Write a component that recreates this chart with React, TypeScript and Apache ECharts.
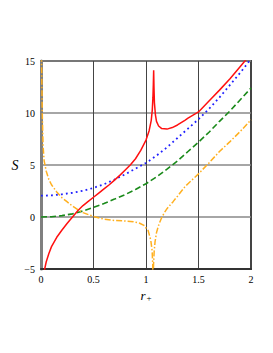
import React, { useEffect, useRef } from "react";
import * as echarts from "echarts";

// Red solid curve
const redR = [0.03, 0.035, 0.05, 0.075, 0.1, 0.15, 0.2, 0.25, 0.3, 0.35, 0.4, 0.45, 0.5, 0.55, 0.6, 0.65, 0.7, 0.75, 0.8, 0.85, 0.9, 0.95, 1.0, 1.03, 1.05, 1.06, 1.066, 1.07, 1.073, 1.076, 1.08, 1.09, 1.1, 1.12, 1.15, 1.2, 1.25, 1.3, 1.37, 1.4, 1.5, 1.6, 1.7, 1.8, 1.9, 2.0];
const redS = [-6, -5, -4.3, -3.5, -2.85, -1.95, -1.25, -0.6, 0.0, 0.6, 1.1, 1.5, 1.9, 2.3, 2.7, 3.1, 3.55, 4.0, 4.5, 5.0, 5.6, 6.4, 7.4, 8.3, 9.3, 10.3, 11.5, 12.8, 14.1, 12.5, 11.0, 9.8, 9.2, 8.75, 8.5, 8.45, 8.6, 8.85, 9.3, 9.5, 10.1, 11.15, 12.2, 13.3, 14.5, 15.7];

// Blue dotted curve
const blueR = [0, 0.1, 0.2, 0.3, 0.4, 0.5, 0.6, 0.7, 0.8, 0.9, 1.0, 1.1, 1.2, 1.3, 1.4, 1.5, 1.6, 1.7, 1.8, 1.9, 2.0];
const blueS = [2.05, 2.08, 2.18, 2.33, 2.52, 2.8, 3.15, 3.6, 4.1, 4.65, 5.2, 5.9, 6.7, 7.6, 8.5, 9.4, 10.4, 11.5, 12.7, 13.9, 15.2];

// Green dashed curve
const greenR = [0, 0.1, 0.2, 0.3, 0.4, 0.5, 0.6, 0.7, 0.8, 0.9, 1.0, 1.1, 1.2, 1.3, 1.4, 1.5, 1.6, 1.7, 1.8, 1.9, 2.0];
const greenS = [0, 0.03, 0.13, 0.3, 0.58, 0.93, 1.3, 1.72, 2.15, 2.65, 3.2, 3.85, 4.6, 5.4, 6.3, 7.2, 8.15, 9.2, 10.2, 11.3, 12.4];

// Orange dash-dot curve, left branch
const orangeLeftR = [0.004, 0.007, 0.012, 0.02, 0.03, 0.05, 0.075, 0.1, 0.15, 0.2, 0.25, 0.3, 0.35, 0.4, 0.5, 0.6, 0.7, 0.8, 0.88, 0.94, 0.98, 1.02, 1.045, 1.058, 1.064, 1.067];
const orangeLeftS = [15.5, 13.8, 10, 6.8, 5.4, 4.4, 3.6, 3.1, 2.4, 1.85, 1.45, 1.05, 0.7, 0.42, 0.05, -0.2, -0.33, -0.38, -0.45, -0.6, -0.8, -1.3, -2.2, -3.2, -4.5, -6];

// Orange dash-dot curve, right branch
const orangeRightR = [1.069, 1.072, 1.078, 1.086, 1.1, 1.117, 1.133, 1.15, 1.18, 1.2, 1.26, 1.3, 1.37, 1.4, 1.5, 1.6, 1.7, 1.8, 1.9, 2.0];
const orangeRightS = [-6, -4.5, -3.3, -2.4, -1.5, -0.9, -0.45, -0.05, 0.5, 0.8, 1.5, 2.0, 2.9, 3.2, 4.15, 5.2, 6.3, 7.25, 8.25, 9.35];

const xTicks = ["0", "0.5", "1", "1.5", "2"];

const zip = (a: number[], b: number[]) => a.map((v, i) => [v, b[i]]);

export default function App() {
  const ref = useRef<HTMLDivElement>(null);
  useEffect(() => {
    if (!ref.current) return;
    const chart = echarts.init(ref.current, null, { renderer: "svg" });
    const font = "'Liberation Serif', 'DejaVu Serif', serif";
    const base = { type: "line", showSymbol: false, symbol: "none", clip: true, smooth: false };
    chart.setOption({
      animation: false,
      grid: { left: 41, top: 61, width: 210, height: 208, show: true, borderColor: "#444", borderWidth: 2, backgroundColor: "transparent" },
      xAxis: {
        type: "value", min: 0, max: 2, interval: 0.5,
        axisLine: { show: true, onZero: false, lineStyle: { color: "#333", width: 2 } },
        axisTick: { show: false },
        splitLine: { show: true, lineStyle: { color: "#444", width: 1 } },
        axisLabel: { color: "#000", fontFamily: font, fontSize: 10, margin: 5, formatter: (v: number) => xTicks[Math.round(v * 2)] ?? String(v) },
        name: "{r|r}{p|+}", nameLocation: "middle", nameGap: 16,
        nameTextStyle: {
          rich: {
            r: { fontFamily: font, fontStyle: "italic", fontSize: 13, color: "#000" },
            p: { fontFamily: font, fontSize: 9, color: "#000", padding: [6, 0, 0, 1] },
          },
        },
      },
      yAxis: {
        type: "value", min: -5, max: 15, interval: 5,
        axisLine: { show: true, onZero: false, lineStyle: { color: "#808080", width: 3 } },
        axisTick: { show: false },
        splitLine: { show: true, lineStyle: { color: "#888", width: 1.5 } },
        axisLabel: { color: "#000", fontFamily: font, fontSize: 10, margin: 6, formatter: (v: number) => String(v).replace("-", "\u2212") },
        name: "S", nameLocation: "middle", nameGap: 22, nameRotate: 0,
        nameTextStyle: { fontFamily: font, fontStyle: "italic", fontSize: 14, color: "#000" },
      },
      series: [
        { ...base, name: "green", data: zip(greenR, greenS), lineStyle: { color: "#1a8a1a", width: 1.6, type: [6, 3] } },
        { ...base, name: "orangeL", data: zip(orangeLeftR, orangeLeftS), lineStyle: { color: "#ffb020", width: 1.5, type: [6, 2, 1.5, 2] } },
        { ...base, name: "orangeR", data: zip(orangeRightR, orangeRightS), lineStyle: { color: "#ffb020", width: 1.5, type: [6, 2, 1.5, 2] } },
        { ...base, name: "blue", data: zip(blueR, blueS), lineStyle: { color: "#2020ff", width: 1.8, type: [1.8, 3.2] } },
        { ...base, name: "red", data: zip(redR, redS), lineStyle: { color: "#ff1010", width: 1.5, type: "solid" } },
      ],
    });
    return () => chart.dispose();
  }, []);
  return <div ref={ref} style={{ position: "fixed", left: 0, top: 0, width: 273, height: 353, background: "#fff" }} />;
}
